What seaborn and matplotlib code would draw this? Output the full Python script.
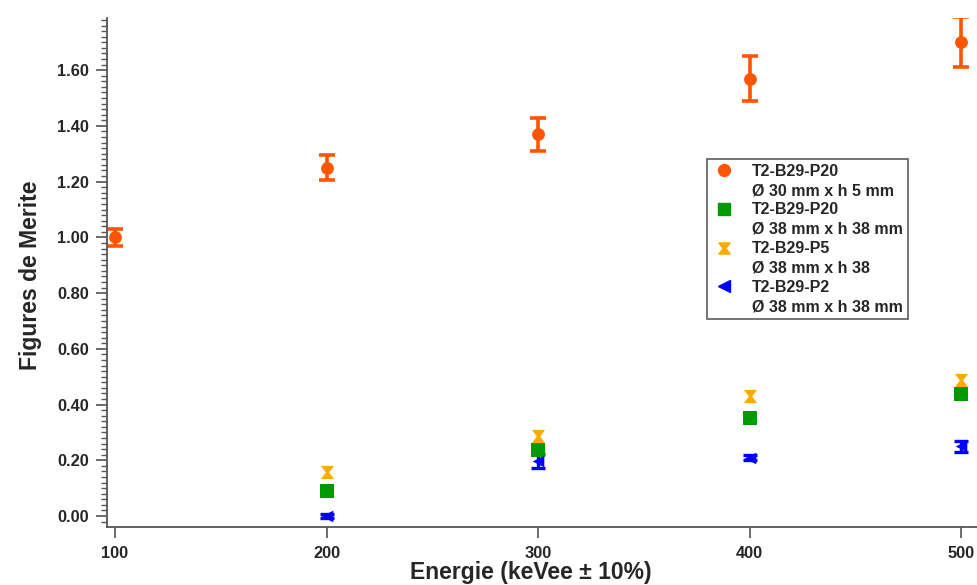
import pandas as pd
import seaborn as sns
import matplotlib.pyplot as plt
from matplotlib.lines import Line2D
from matplotlib.path import Path
from matplotlib.ticker import MultipleLocator, FormatStrFormatter

# valeurs
energie = [100, 200, 300, 400, 500]
fom_p20_5 = [1.00, 1.25, 1.37, 1.57, 1.70]
err_p20_5 = [0.03, 0.045, 0.06, 0.08, 0.09]

energie_38 = [200, 300, 400, 500]
fom_p20_38 = [0.09, 0.237, 0.352, 0.438]
fom_p5 = [0.158, 0.287, 0.43, 0.488]
fom_p2 = [0.00, 0.197, 0.21, 0.25]
err_p2 = [0.008, 0.025, 0.008, 0.02]

labels = ["T2-B29-P20", "Ø 30 mm x h 5 mm",
          "T2-B29-P20", "Ø 38 mm x h 38 mm",
          "T2-B29-P5", "Ø 38 mm x h 38",
          "T2-B29-P2", "Ø 38 mm x h 38 mm"]

c_p20_5 = "#ff5500"
c_p20_38 = "#009a00"
c_p5 = "#ffaa00"
c_p2 = "#0000ff"

# marqueur sablier
sablier = Path([(-1, 1), (1, 1), (0.25, 0), (1, -1), (-1, -1), (-0.25, 0), (-1, 1)],
               [Path.MOVETO] + [Path.LINETO] * 5 + [Path.CLOSEPOLY])

sns.set_style("ticks")
plt.rcParams['font.family'] = ['Liberation Sans', 'DejaVu Sans']
plt.rcParams['font.weight'] = 'bold'

df_a = pd.DataFrame({"E": energie, "F": fom_p20_5})
df_b = pd.DataFrame({"E": energie_38, "F": fom_p20_38})
df_c = pd.DataFrame({"E": energie_38, "F": fom_p5})
df_d = pd.DataFrame({"E": energie_38, "F": fom_p2})

fig = plt.figure(figsize=(9.78, 5.85), dpi=100)
ax = fig.add_axes([0.1094, 0.0991, 0.8906, 0.8700])

ax.errorbar(energie, fom_p20_5, yerr=err_p20_5, fmt="none", ecolor=c_p20_5,
            elinewidth=2.6, capsize=5.5, capthick=2.6, zorder=2)
ax.errorbar(energie_38, fom_p2, yerr=err_p2, fmt="none", ecolor=c_p2,
            elinewidth=2.4, capsize=5, capthick=2.4, zorder=2)

sns.scatterplot(data=df_a, x="E", y="F", ax=ax, color=c_p20_5, marker="o",
                s=85, linewidth=0, zorder=3)
sns.scatterplot(data=df_b, x="E", y="F", ax=ax, color=c_p20_38, marker="s",
                s=100, linewidth=0, zorder=3)
sns.scatterplot(data=df_c, x="E", y="F", ax=ax, color=c_p5, marker=sablier,
                s=90, linewidth=0, zorder=3)
sns.scatterplot(data=df_d, x="E", y="F", ax=ax, color=c_p2, marker="<",
                s=70, linewidth=0, zorder=3)

ax.set_xlim(96.2, 508)
ax.set_ylim(-0.0395, 1.787)
ax.xaxis.set_major_locator(MultipleLocator(100))
ax.yaxis.set_major_locator(MultipleLocator(0.2))
ax.yaxis.set_minor_locator(MultipleLocator(0.02))
ax.yaxis.set_major_formatter(FormatStrFormatter("%.2f"))

sns.despine(ax=ax)
for s in ["left", "bottom"]:
    ax.spines[s].set_color("#555555")
    ax.spines[s].set_linewidth(1.3)
ax.tick_params(axis="both", which="major", length=8, width=1.1, color="#444444",
               labelsize=11.8, pad=5)
ax.tick_params(axis="y", which="minor", length=4.5, width=1.0, color="#555555")
ax.tick_params(axis="x", which="major", pad=6)
for t in ax.get_xticklabels() + ax.get_yticklabels():
    t.set_fontweight("bold")

ax.set_xlabel("Energie (keVee ± 10%)", fontsize=16.5, fontweight="bold")
ax.xaxis.set_label_coords(0.487, -0.090)
ax.xaxis.label.set_va("center")
ax.set_ylabel("Figures de Merite", fontsize=16.5, fontweight="bold")
ax.yaxis.set_label_coords(-0.088, 0.495)
ax.yaxis.label.set_va("center")

vide = Line2D([], [], linestyle="none", marker=None)
handles = [
    Line2D([], [], linestyle="none", marker="o", color=c_p20_5, markersize=8.5), vide,
    Line2D([], [], linestyle="none", marker="s", color=c_p20_38, markersize=8.5), vide,
    Line2D([], [], linestyle="none", marker=sablier, color=c_p5, markersize=8), vide,
    Line2D([], [], linestyle="none", marker="<", color=c_p2, markersize=8), vide,
]
leg = ax.legend(handles, labels, loc="upper left", bbox_to_anchor=(0.689, 0.723),
                borderaxespad=0, frameon=True, fancybox=False, edgecolor="#333333",
                labelspacing=0.27, handlelength=1.5, handletextpad=1.0,
                borderpad=0.3, prop={"weight": "bold", "size": 11.5})
leg.get_frame().set_linewidth(1.2)

fig.savefig("out.png", dpi=100)
